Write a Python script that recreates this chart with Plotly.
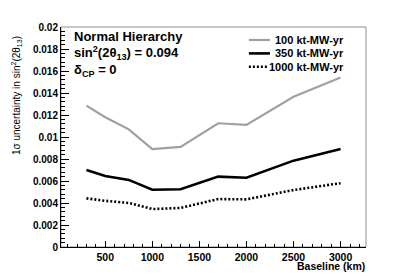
import plotly.graph_objects as go

# ---- data ----
baseline_km = [300, 500, 750, 1000, 1300, 1700, 2000, 2500, 3000]
unc_100 = [0.01285, 0.0118, 0.0107, 0.0089, 0.0091, 0.01125, 0.0111, 0.01365, 0.0154]
unc_350 = [0.0070, 0.00645, 0.0061, 0.0052, 0.00525, 0.0064, 0.0063, 0.00785, 0.0089]
unc_1000 = [0.00442, 0.0042, 0.0040, 0.00345, 0.00355, 0.00436, 0.00433, 0.00518, 0.00580]

series_names = ["100 kt-MW-yr", "350 kt-MW-yr", "1000 kt-MW-yr"]
y_tickvals = [0, 0.002, 0.004, 0.006, 0.008, 0.01, 0.012, 0.014, 0.016, 0.018, 0.02]
y_ticktext = ["0", "0.002", "0.004", "0.006", "0.008", "0.01", "0.012", "0.014", "0.016", "0.018", "0.02"]
x_tickvals = [500, 1000, 1500, 2000, 2500, 3000]
x_ticktext = ["500", "1000", "1500", "2000", "2500", "3000"]

FONT = "Liberation Sans, Arial, Helvetica, sans-serif"
styles = [
    dict(color="#a0a0a0", width=2.2, dash="solid"),
    dict(color="#000000", width=2.6, dash="solid"),
    dict(color="#000000", width=2.6, dash="2px,2px"),
]

fig = go.Figure()
for name, ys, st in zip(series_names, [unc_100, unc_350, unc_1000], styles):
    fig.add_trace(go.Scatter(x=baseline_km, y=ys, mode="lines", name=name,
                             line=st, showlegend=False))

# page body has an 8px margin; compensate so the plot frame matches the reference
fig.update_layout(
    width=399, height=268,
    margin=dict(l=53, r=41, t=19, b=29),
    paper_bgcolor="white", plot_bgcolor="white",
    font=dict(family=FONT, color="black"),
)
fig.update_xaxes(
    range=[30, 3270], showgrid=False, zeroline=False,
    showline=True, linecolor="black", linewidth=1,
    tickmode="array", tickvals=x_tickvals, ticktext=x_ticktext,
    ticks="inside", ticklen=6, tickwidth=1, tickcolor="black",
    minor=dict(ticks="inside", dtick=100, tick0=0, ticklen=3, tickcolor="black", tickwidth=1),
    tickfont=dict(size=10.5, family=FONT, weight="bold"),
)
fig.update_yaxes(
    range=[0, 0.02], showgrid=False, zeroline=False,
    showline=True, linecolor="black", linewidth=1,
    tickmode="array", tickvals=y_tickvals, ticktext=y_ticktext,
    ticks="inside", ticklen=8, tickwidth=1, tickcolor="black",
    minor=dict(ticks="inside", dtick=0.0004, tick0=0, ticklen=4, tickcolor="black", tickwidth=1),
    tickfont=dict(size=10, family=FONT, weight="bold"),
)

# frame (top / right in gray)
fig.add_shape(type="rect", xref="paper", yref="paper", x0=0, y0=0, x1=1, y1=1,
              line=dict(color="#909090", width=1), layer="below")

# header text
header = ["Normal Hierarchy",
          "sin<sup>2</sup>(2θ<sub>13</sub>) = 0.094",
          "δ<sub>CP</sub> = 0"]
header_y = [0.959, 0.880, 0.803]
for txt, yy in zip(header, header_y):
    fig.add_annotation(text=txt, xref="paper", yref="paper", x=0.036, y=yy,
                       xanchor="left", yanchor="middle", showarrow=False,
                       font=dict(size=13, family=FONT, weight="bold"))

# manual legend (line samples + right-aligned labels)
leg_y = [0.941, 0.880, 0.819]
for name, st, yy, x1 in zip(series_names, styles, leg_y, [0.685, 0.685, 0.675]):
    fig.add_shape(type="line", xref="paper", yref="paper", x0=0.616, x1=x1, y0=yy, y1=yy,
                  line=st)
    fig.add_annotation(text=name, xref="paper", yref="paper", x=0.934, y=yy,
                       xanchor="right", yanchor="middle", showarrow=False,
                       font=dict(size=11, family=FONT, weight="bold"))

# axis titles
fig.add_annotation(text="Baseline (km)", xref="paper", yref="paper", x=1.003, y=-0.086,
                   xanchor="right", yanchor="middle", showarrow=False,
                   font=dict(size=10.5, family=FONT, weight="bold"))
fig.add_annotation(text="1σ uncertainty in sin<sup>2</sup>(2θ<sub>13</sub>)", xref="paper", yref="paper",
                   x=-0.1475, y=0.686, xanchor="center", yanchor="middle", textangle=-90,
                   showarrow=False, font=dict(size=10, family=FONT))

fig.write_html("out.html")
